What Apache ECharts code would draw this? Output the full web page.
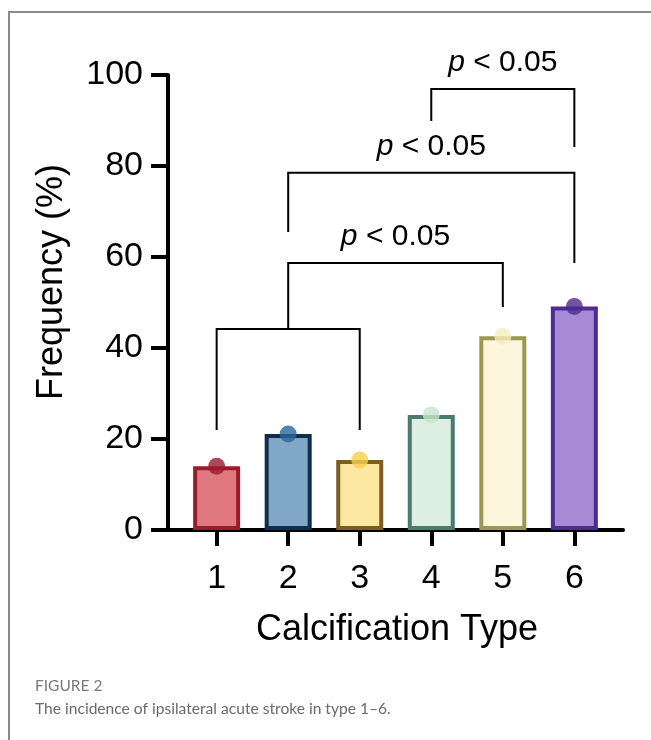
<!DOCTYPE html>
<html>
<head>
<meta charset="utf-8">
<script src="https://cdn.jsdelivr.net/npm/echarts@6/dist/echarts.min.js"></script>
<style>
  html, body { margin: 0; padding: 0; background: #fff; }
  #chart { width: 651px; height: 740px; }
</style>
</head>
<body>
<div id="chart"></div>
<script>
const types = [1, 2, 3, 4, 5, 6]
const frequency = [14.0, 21.1, 15.4, 25.3, 42.6, 49.1]
const yTicks = [0, 20, 40, 60, 80, 100]

// [from type, to type, bar level, left leg end, right leg end, label]
const brackets = [
  [1, 3, 44.2, 22.0, 22.0, ''],
  [2, 5, 58.7, 44.2, 49.0, 'p'],
  [2, 6, 78.5, 65.5, 58.7, 'p'],
  [4, 6, 96.9, 89.9, 84.2, 'p']
]

const fillColors = ['#e07880', '#80a8c6', '#fde8a2', '#dcefe2', '#fcf6dd', '#a78ad6']
const edgeColors = ['#9a1c2a', '#0e2f4c', '#7a5e22', '#4b7a70', '#9c9852', '#4e2b8e']
const dotColors = ['#9a1c2a', '#2a6598', '#f6cf4a', '#c7e3cd', '#f5ecc0', '#4e2b8e']

const chart = echarts.init(document.getElementById('chart'))
const font = 'Liberation Sans, Arial, sans-serif'

let option = {
  animation: false,
  grid: { left: 168, right: 28, top: 75, bottom: 210 },
  xAxis: {
    type: 'value',
    min: 0.32,
    max: 6.68,
    splitLine: { show: false },
    axisLine: { show: true, onZero: false, lineStyle: { color: '#000', width: 4 } },
    axisTick: { show: true, customValues: types, length: 16, lineStyle: { color: '#000', width: 4 } },
    axisLabel: { customValues: types, color: '#000', fontSize: 34, fontFamily: font, margin: 32 }
  },
  yAxis: {
    type: 'value',
    min: 0,
    max: 100,
    interval: 20,
    splitLine: { show: false },
    axisLine: { show: true, lineStyle: { color: '#000', width: 4 } },
    axisTick: { show: true, length: 17, lineStyle: { color: '#000', width: 4 } },
    axisLabel: { color: '#000', fontSize: 34, fontFamily: font, margin: 25,
      formatter: v => yTicks.includes(v) ? String(v) : '' }
  },
  graphic: [
    { type: 'polyline', silent: true, shape: { points: [[9, 740], [9, 12], [651, 12]] },
      style: { stroke: '#8a8a8a', lineWidth: 2, fill: null } },
    { type: 'text', x: 52, y: 282, rotation: Math.PI / 2,
      style: { text: 'Frequency (%)', fontSize: 36, fontFamily: font, fill: '#000',
        align: 'center', verticalAlign: 'middle' } },
    { type: 'text', x: 397, y: 630,
      style: { text: 'Calcification Type', fontSize: 36, fontFamily: font, fill: '#000',
        align: 'center', verticalAlign: 'middle' } },
    { type: 'text', x: 35, y: 686,
      style: { text: 'FIGURE 2', fontSize: 15.5, fontFamily: 'Lato, sans-serif', fill: '#7a7a7a',
        verticalAlign: 'middle' } },
    { type: 'text', x: 35, y: 709,
      style: { text: 'The incidence of ipsilateral acute stroke in type 1\u20136.', fontSize: 15.6,
        fontFamily: 'Lato, sans-serif', fill: '#6a6a6a', verticalAlign: 'middle' } }
  ],
  series: [
    {
      type: 'bar',
      barWidth: 47,
      data: types.map((t, i) => ({
        value: [t, frequency[i]],
        itemStyle: { color: fillColors[i], borderColor: edgeColors[i], borderWidth: 4 }
      }))
    },
    {
      type: 'scatter',
      symbolSize: 17,
      z: 3,
      data: types.map((t, i) => ({
        value: [t, frequency[i]],
        itemStyle: { color: dotColors[i] }
      }))
    },
    {
      type: 'custom',
      silent: true,
      z: 4,
      data: brackets,
      renderItem: function (params, api) {
        const a = api.value(0), b = api.value(1)
        const top = api.value(2)
        const pL = api.coord([a, api.value(3)])
        const pR = api.coord([b, api.value(4)])
        const tL = api.coord([a, top])
        const tR = api.coord([b, top])
        const children = [{
          type: 'polyline',
          shape: { points: [pL, tL, tR, pR] },
          style: { stroke: '#000', lineWidth: 2, fill: null }
        }]
        if (brackets[params.dataIndex][5]) {
          children.push({
            type: 'text',
            x: (tL[0] + tR[0]) / 2,
            y: tL[1] - 26,
            style: {
              text: '{i|p} < 0.05',
              align: 'center',
              verticalAlign: 'middle',
              fontSize: 30,
              fontFamily: font,
              fill: '#000',
              rich: { i: { fontStyle: 'italic', fontSize: 30, fontFamily: font, fill: '#000' } }
            }
          })
        }
        return { type: 'group', children: children }
      }
    }
  ]
}

option && chart.setOption(option)
</script>
</body>
</html>
